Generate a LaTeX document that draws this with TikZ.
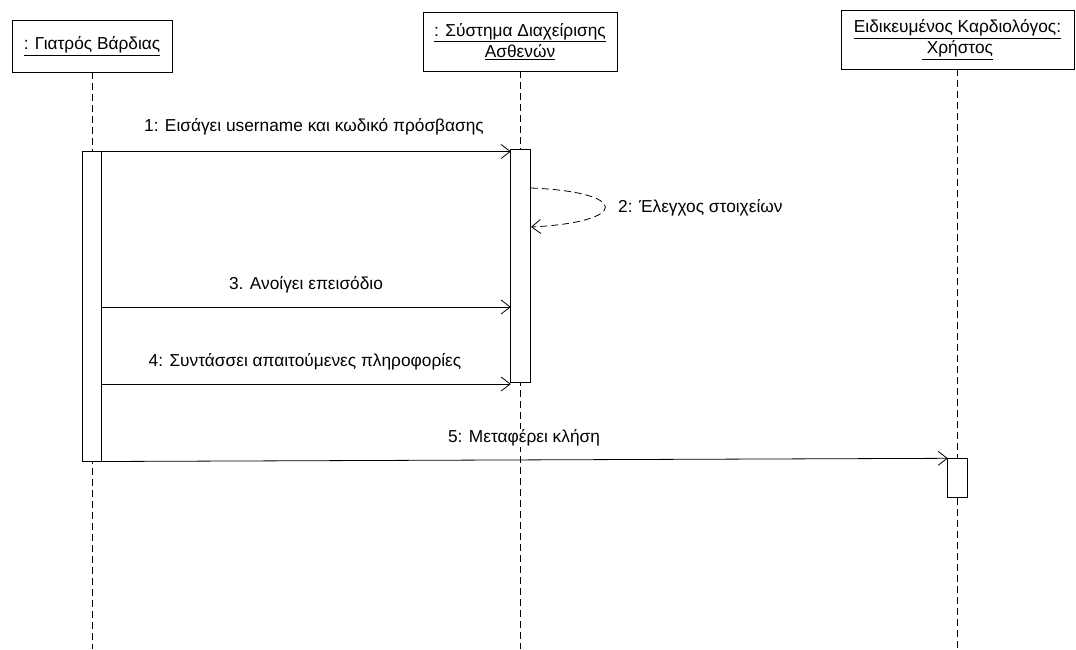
\documentclass[tikz,border=0pt]{standalone}
\usepackage{fontspec}
\setmainfont{Liberation Sans}
\usetikzlibrary{arrows.meta}
\begin{document}
\begin{tikzpicture}[x=1pt,y=-1pt,
  every node/.style={font=\fontsize{17.3}{21}\selectfont},
  objbox/.style={draw, line width=0.9pt, fill=white, align=center, inner sep=0pt},
  lifeline/.style={dash pattern=on 7pt off 4pt, line width=0.8pt},
  actbar/.style={draw, fill=white, line width=0.9pt, minimum width=19.5pt, inner sep=0pt},
  msg/.style={line width=0.8pt, -{Straight Barb[length=9pt,width=14pt]}},
  selfmsg/.style={msg, dash pattern=on 7pt off 4pt},
  msglabel/.style={fill=white, inner sep=1pt}
]
\useasboundingbox (0,0) rectangle (1076,649);

% participants
\node[objbox, minimum width=160pt, minimum height=52pt] (doc) at (92,46)
  {\underline{: Γιατρός Βάρδιας}};
\node[objbox, minimum width=194pt, minimum height=59pt] (sys) at (520,41.5)
  {\underline{: Σύστημα Διαχείρισης}\\\underline{Ασθενών}};
\node[objbox, minimum width=233pt, minimum height=59pt] (card) at (957.5,39.5)
  {\underline{Ειδικευμένος Καρδιολόγος:}\\\underline{\ Χρήστος}};

% lifelines
\coordinate (docend) at (92,649);
\coordinate (sysend) at (520,649);
\coordinate (cardend) at (957.5,649);
\draw[lifeline] (doc.south) -- (docend);
\draw[lifeline] (sys.south) -- (sysend);
\draw[lifeline] (card.south) -- (cardend);

% activation bars
\node[actbar, minimum height=310pt] (act1) at (92,306.5) {};
\node[actbar, minimum height=233pt] (act2) at (520.5,265.5) {};
\node[actbar, minimum height=39pt] (act3) at (957.5,477.5) {};

% message end points
\coordinate (m1s) at (101.8,151.5);
\coordinate (m1e) at (510.8,151.5);
\coordinate (m2s) at (531,188);
\coordinate (m2e) at (531,227);
\coordinate (m3s) at (101.8,307);
\coordinate (m3e) at (510.8,307);
\coordinate (m4s) at (101.8,384);
\coordinate (m4e) at (510.8,384);
\coordinate (m5s) at (101.8,461.5);
\coordinate (m5e) at (947.8,458.3);

% messages
\draw[msg] (m1s) -- (m1e);
\node[msglabel] (l1) at (314,127) {1: Εισάγει username και κωδικό πρόσβασης};

\draw[selfmsg] (m2s) .. controls (630,192) and (630,222) .. (m2e);
\node[msglabel, anchor=west] (l2) at (617,208) {2: Έλεγχος στοιχείων};

\draw[msg] (m3s) -- (m3e);
\node[msglabel] (l3) at (306,285) {3. Ανοίγει επεισόδιο};

\draw[msg] (m4s) -- (m4e);
\node[msglabel] (l4) at (305,362) {4: Συντάσσει απαιτούμενες πληροφορίες};

\draw[msg] (m5s) -- (m5e);
\node[msglabel] (l5) at (524,438) {5: Μεταφέρει κλήση};
\end{tikzpicture}
\end{document}
